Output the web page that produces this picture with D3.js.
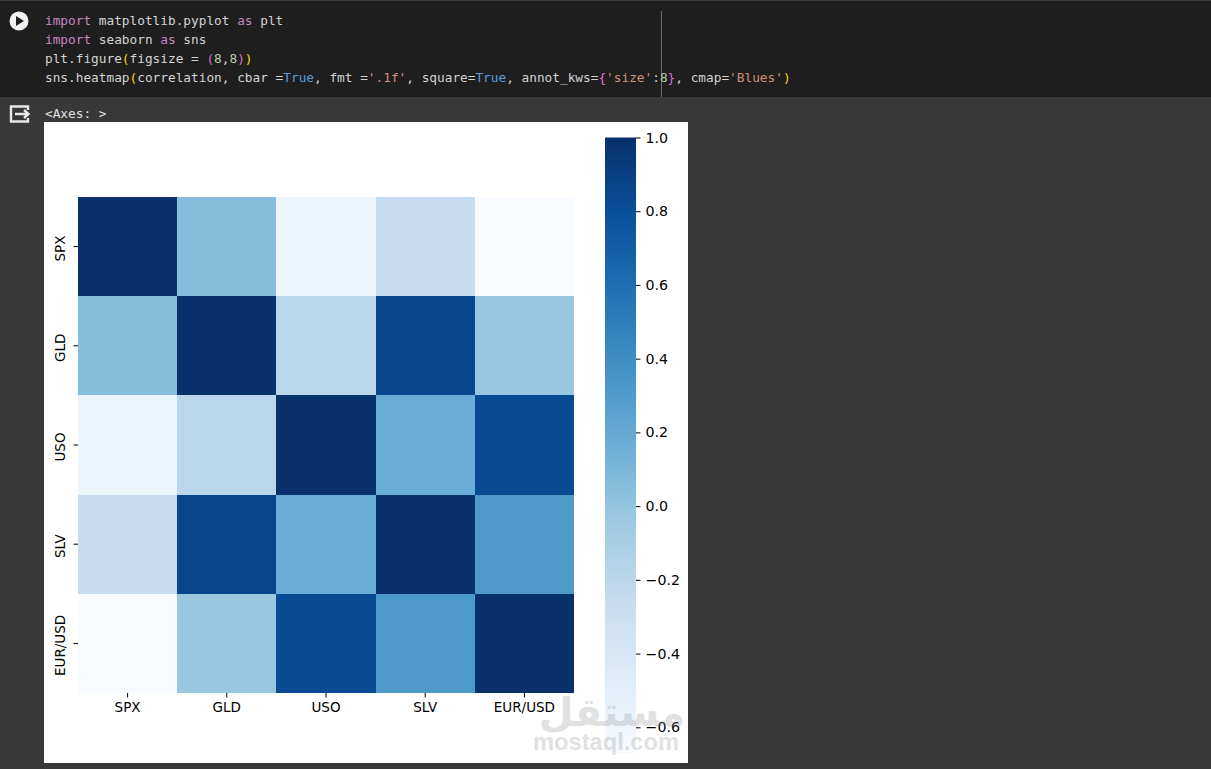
<!DOCTYPE html>
<html lang="en">
<head>
<meta charset="UTF-8">
<title>Correlation heatmap</title>
<style>
  html, body { margin: 0; padding: 0; background: #383838; overflow: hidden; }
  svg { display: block; }
</style>
</head>
<body>
<svg id="viz" width="1211" height="769"></svg>
<script src="https://d3js.org/d3.v7.min.js"></script>
<script>
const labels = ["SPX", "GLD", "USO", "SLV", "EUR/USD"];
const correlation = [
  [1.00, 0.05, -0.59, -0.27, -0.67],
  [0.05, 1.00, -0.19, 0.87, -0.02],
  [-0.59, -0.19, 1.00, 0.17, 0.83],
  [-0.27, 0.87, 0.17, 1.00, 0.32],
  [-0.67, -0.02, 0.83, 0.32, 1.00]
];
const cbarTicks = [1.0, 0.8, 0.6, 0.4, 0.2, 0.0, -0.2, -0.4, -0.6];
const blues = ["#f7fbff", "#deebf7", "#c6dbef", "#9ecae1", "#6baed6", "#4292c6", "#2171b5", "#08519c", "#08306b"];

// code cell text, split in coloured pieces
const C = { plain: "#d4d4d4", kw: "#c586c0", blue: "#569cd6", str: "#ce9178", num: "#b5cea8", par: "#ffd700", par2: "#da70d6" };
const codeLines = [
  [["import", C.kw], [" matplotlib.pyplot ", C.plain], ["as", C.kw], [" plt", C.plain]],
  [["import", C.kw], [" seaborn ", C.plain], ["as", C.kw], [" sns", C.plain]],
  [["plt.figure", C.plain], ["(", C.par], ["figsize = ", C.plain], ["(", C.par2], ["8", C.num], [",", C.plain], ["8", C.num], [")", C.par2], [")", C.par]],
  [["sns.heatmap", C.plain], ["(", C.par], ["correlation, cbar =", C.plain], ["True", C.blue], [", fmt =", C.plain], ["'.1f'", C.str],
   [", square=", C.plain], ["True", C.blue], [", annot_kws=", C.plain], ["{", C.par2], ["'size'", C.str], [":", C.plain], ["8", C.num], ["}", C.par2],
   [", cmap=", C.plain], ["'Blues'", C.str], [")", C.par]]
];

const svg = d3.select("#viz");
const sansFont = "'DejaVu Sans', sans-serif";
const monoFont = "'DejaVu Sans Mono', monospace";

// notebook chrome
svg.append("rect").attr("width", 1211).attr("height", 769).attr("fill", "#383838");
svg.append("rect").attr("y", 1).attr("width", 1211).attr("height", 96).attr("fill", "#1e1e1e");
svg.append("line").attr("x1", 661.5).attr("x2", 661.5).attr("y1", 11).attr("y2", 97).attr("stroke", "#6e6e6e");

// run button
const run = svg.append("g").attr("transform", "translate(19,21)");
run.append("circle").attr("r", 9.5).attr("fill", "#f2f2f2");
run.append("path").attr("d", "M-3,-5L5,0L-3,5Z").attr("fill", "#1e1e1e");

// output icon
const out = svg.append("g").attr("fill", "none").attr("stroke", "#e8e8e8").attr("stroke-width", 2.4);
out.append("path").attr("d", "M28,110V106.5H11V121.5H28V118");
out.append("path").attr("d", "M15,114H28M24,110L28.5,114L24,118");

codeLines.forEach((line, i) => {
  const text = svg.append("text")
    .attr("x", 45).attr("y", 25 + i * 19)
    .attr("font-family", monoFont).attr("font-size", 12.78);
  line.forEach(p => text.append("tspan").attr("fill", p[1]).style("white-space", "pre").text(p[0]));
});
svg.append("text").attr("x", 45).attr("y", 118)
  .attr("font-family", monoFont).attr("font-size", 12.78).attr("fill", "#e0e0e0")
  .text("<Axes: >");

// figure
svg.append("rect").attr("x", 44).attr("y", 122).attr("width", 644).attr("height", 641).attr("fill", "#fff");

const x = d3.scaleBand().domain(labels).range([78, 574]);
const y = d3.scaleBand().domain(labels).range([197, 693]);

// value range of the colourbar
const vmin = d3.min(correlation.flat()), vmax = d3.max(correlation.flat());
const color = d3.scaleLinear()
  .domain(blues.map((b, i) => vmin + (vmax - vmin) * i / (blues.length - 1)))
  .range(blues);

const cells = correlation.flatMap((row, r) => row.map((v, c) => ({ row: labels[r], col: labels[c], v })));
svg.append("g").selectAll("rect").data(cells).join("rect")
  .attr("x", d => x(d.col))
  .attr("y", d => y(d.row))
  .attr("width", x.bandwidth())
  .attr("height", y.bandwidth())
  .attr("fill", d => color(d.v))
  .attr("shape-rendering", "crispEdges");

function styleAxis(g) {
  g.select(".domain").remove();
  g.selectAll("line").attr("stroke", "#000").attr("stroke-width", 1);
  g.selectAll("text").attr("fill", "#000").attr("font-family", sansFont).attr("font-size", 13.5);
}

svg.append("g").attr("transform", "translate(0,693)")
  .call(d3.axisBottom(x).tickSize(4.5).tickPadding(5))
  .call(styleAxis);

svg.append("g").attr("transform", "translate(78,0)")
  .call(d3.axisLeft(y).tickSize(4.5).tickPadding(5))
  .call(styleAxis)
  .call(g => g.selectAll("text")
    .attr("text-anchor", "middle")
    .attr("dy", 0)
    .attr("x", 0).attr("y", 0)
    .attr("transform", "translate(-13.5,2) rotate(-90)"));

// colourbar, scale set from the -0.6 and 1.0 ticks
const cbarY = d3.scaleLinear().domain([-0.6, 1.0]).range([727.3, 137.5]);
const grad = svg.append("defs").append("linearGradient")
  .attr("id", "cbar").attr("x1", 0).attr("x2", 0).attr("y1", 1).attr("y2", 0);
grad.selectAll("stop").data(blues).join("stop")
  .attr("offset", (d, i) => i / (blues.length - 1))
  .attr("stop-color", d => d);
svg.append("rect")
  .attr("x", 605).attr("width", 31)
  .attr("y", cbarY(vmax)).attr("height", cbarY(vmin) - cbarY(vmax))
  .attr("fill", "url(#cbar)");
svg.append("g").attr("transform", "translate(636,0)")
  .call(d3.axisRight(cbarY).tickValues(cbarTicks).tickSize(4.5).tickPadding(5)
    .tickFormat(d => d3.format(".1f")(d).replace("-", "\u2212")))
  .call(styleAxis)
  .call(g => g.selectAll("text").attr("font-size", 14.2));

// watermark
const wm = svg.append("g").attr("text-anchor", "middle").attr("fill", "#8a8a8a").attr("opacity", 0.25);
wm.append("text").attr("x", 612).attr("y", 726)
  .attr("font-family", sansFont).attr("font-size", 40).attr("font-weight", "bold").text("مستقل");
wm.append("text").attr("x", 606).attr("y", 750)
  .attr("font-family", "'Liberation Sans', sans-serif").attr("font-size", 23.7).attr("font-weight", "bold").text("mostaql.com");
</script>
</body>
</html>
